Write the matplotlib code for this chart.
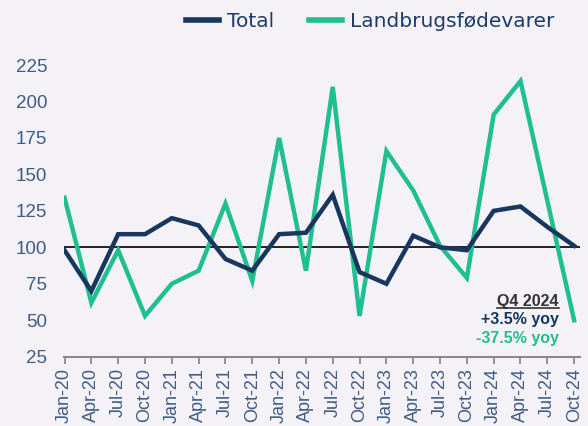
import matplotlib
matplotlib.use("Agg")
import matplotlib.pyplot as plt
from matplotlib.lines import Line2D

# quarterly index values
quarters = ["Jan-20", "Apr-20", "Jul-20", "Oct-20", "Jan-21", "Apr-21", "Jul-21", "Oct-21",
            "Jan-22", "Apr-22", "Jul-22", "Oct-22", "Jan-23", "Apr-23", "Jul-23", "Oct-23",
            "Jan-24", "Apr-24", "Jul-24", "Oct-24"]
total = [98, 70, 109, 109, 120, 115, 92, 84, 109, 110, 136, 83, 75, 108, 100, 98, 125, 128, 114, 101]
landbrug = [134, 62, 98, 53, 75, 84, 130, 77, 175, 84, 210, 53, 166, 139, 101, 79, 191, 214, 132, 50]
yticks = [25, 50, 75, 100, 125, 150, 175, 200, 225]
baseline = 100

navy = "#17375e"
green = "#20bf8f"
label_col = "#3e5c85"
bg = "#f4f1f7"

W, H = 588, 426
fig = plt.figure(figsize=(W / 100, H / 100), dpi=100, facecolor=bg)
ax = fig.add_axes([64 / W, (H - 356.7) / H, 515.5 / W, 291.7 / H], facecolor=bg)

x = list(range(len(quarters)))
ax.axhline(baseline, color="#222222", lw=1.4, zorder=1)
ax.plot(x, total, color=navy, lw=3.2, solid_joinstyle="miter", label="Total", zorder=3)
ax.plot(x, landbrug, color=green, lw=3.2, solid_joinstyle="miter", label="Landbrugsfødevarer", zorder=2)

ax.set_xlim(-0.02, 19.2)
ax.set_ylim(25, 225)
ax.set_xticks(x)
ax.set_xticklabels(quarters, rotation=90, fontsize=13, color=label_col, family="Liberation Sans")
ax.set_yticks(yticks)
ax.set_yticklabels([str(v) for v in yticks], fontsize=13.5, color=label_col, family="Liberation Sans")
ax.tick_params(axis="y", length=0, pad=12)
ax.tick_params(axis="x", length=5, width=1.3, color="#8a8a8a", direction="out", pad=3)
for s in ["top", "right", "left"]:
    ax.spines[s].set_visible(False)
ax.spines["bottom"].set_color("#8a8a8a")
ax.spines["bottom"].set_linewidth(1.5)

leg = fig.legend(loc="center", bbox_to_anchor=(370 / W, 1 - 21.7 / H), ncol=2, frameon=False,
                 prop={"family": "DejaVu Sans", "size": 14.5}, handlelength=1.64, columnspacing=1.74,
                 handletextpad=0.4)
for t in leg.get_texts():
    t.set_color("#1d3c6a")
for h in leg.legend_handles:
    h.set_linewidth(4)

tx = 0.960
q4 = ax.text(tx, 0.1886, "Q4 2024", transform=ax.transAxes, ha="right", va="center",
             fontsize=11.5, fontweight="bold", color="#333333", family="Liberation Sans")
ax.text(tx, 0.126, "+3.5% yoy", transform=ax.transAxes, ha="right", va="center",
        fontsize=11.5, fontweight="bold", color=navy, family="Liberation Sans")
ax.text(tx, 0.061, "-37.5% yoy", transform=ax.transAxes, ha="right", va="center",
        fontsize=11.5, fontweight="bold", color=green, family="Liberation Sans")

# underline for the "Q4 2024" heading
fig.canvas.draw()
bb = q4.get_window_extent().transformed(fig.transFigure.inverted())
fig.add_artist(Line2D([bb.x0, bb.x1], [bb.y0 + 0.002, bb.y0 + 0.002], transform=fig.transFigure,
                      color="#333333", lw=1.2))

fig.savefig("out.png", dpi=100, facecolor=bg)
